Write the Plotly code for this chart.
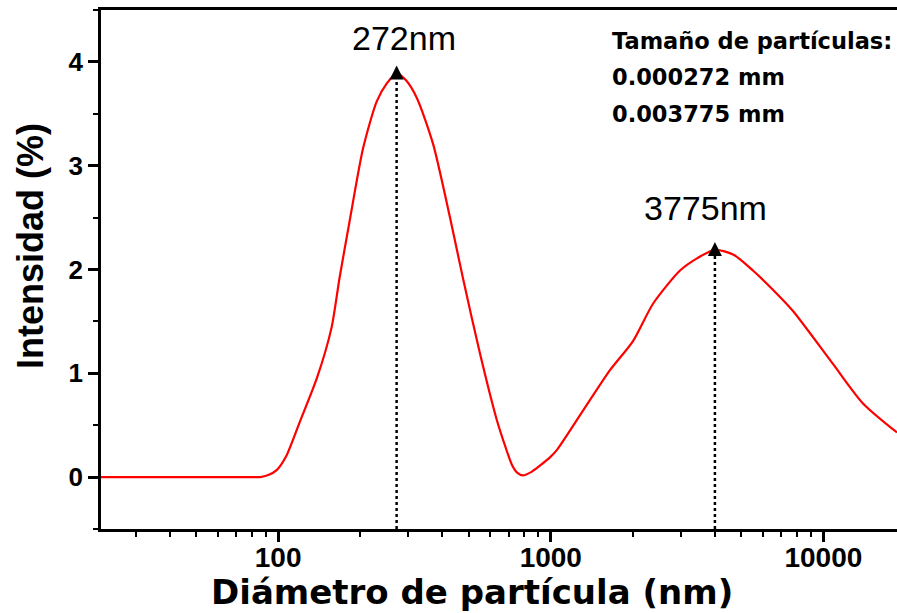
import math
import plotly.graph_objects as go

# ---- data ----
diameter_nm = [20, 80, 86, 92, 99, 107, 120, 139, 157, 168, 183, 205, 230, 250, 272, 295,
               323, 370, 427, 476, 550, 634, 680, 720, 755, 790, 850, 912, 993, 1052,
               1313, 1649, 2003, 2372, 2979, 3450, 4000, 4700, 5515, 6500, 7734, 10840,
               13970, 18620]
intensity_pct = [0, 0, 0, 0.02, 0.07, 0.2, 0.53, 0.96, 1.44, 1.92, 2.47, 3.17, 3.62, 3.79,
                 3.89, 3.82, 3.65, 3.21, 2.50, 1.92, 1.19, 0.55, 0.30, 0.12, 0.04, 0.016,
                 0.05, 0.11, 0.19, 0.26, 0.64, 1.03, 1.31, 1.67, 1.99, 2.11, 2.19, 2.14,
                 1.99, 1.81, 1.60, 1.09, 0.71, 0.43]

peak_x = [272, 4000]
peak_y = [3.89, 2.19]
peak_labels = ["272nm", "3775nm"]
info_lines = ["Tamaño de partículas:", "0.000272 mm", "0.003775 mm"]
x_ticks = [100, 1000, 10000]
x_range = [22.4, 18620]
y_range = [-0.5, 4.5]

fig = go.Figure()

fig.add_trace(go.Scatter(
    x=diameter_nm, y=intensity_pct, mode="lines",
    line=dict(color="#ff0000", width=2.2, shape="spline", smoothing=0.7),
    showlegend=False, hoverinfo="skip"))

for px_, py_ in zip(peak_x, peak_y):
    fig.add_trace(go.Scatter(
        x=[px_, px_], y=[y_range[0], py_], mode="lines",
        line=dict(color="black", width=2.5, dash="dot"),
        showlegend=False, hoverinfo="skip"))
    fig.add_trace(go.Scatter(
        x=[px_], y=[py_ + 0.075], mode="markers",
        marker=dict(symbol="arrow-up", size=14, color="black", line=dict(width=0)),
        showlegend=False, hoverinfo="skip"))

label_xshift = [7, -9]
label_yshift = [14, 21]
for px_, py_, txt, xs, ys in zip(peak_x, peak_y, peak_labels, label_xshift, label_yshift):
    fig.add_annotation(x=math.log10(px_), y=py_, text=txt, showarrow=False,
                       xanchor="center", yanchor="bottom", xshift=xs, yshift=ys,
                       font=dict(family="Liberation Sans", size=34, color="black"))

for i, line in enumerate(info_lines):
    fig.add_annotation(xref="paper", yref="paper", x=(610 - 101) / 796,
                       y=(529 - (41 + i * 36.5)) / 519, text=line, showarrow=False,
                       xanchor="left", yanchor="middle",
                       font=dict(family="DejaVu Sans", size=22.5, color="black", weight="bold"))

# axis titles
fig.add_annotation(xref="paper", yref="paper", x=(472 - 101) / 796, y=0,
                   yshift=-85, text="Diámetro de partícula (nm)", showarrow=False,
                   xanchor="center", yanchor="bottom",
                   font=dict(family="DejaVu Sans", size=34, color="black", weight="bold"))
fig.add_annotation(xref="paper", yref="paper", x=0, xshift=-71,
                   y=(529 - 246) / 519, text="Intensidad (%)", showarrow=False,
                   textangle=-90, xanchor="center", yanchor="middle",
                   font=dict(family="Liberation Sans", size=36, color="black", weight="bold"))

fig.update_xaxes(
    type="log", range=[math.log10(x_range[0]), math.log10(x_range[1])],
    tickmode="array", tickvals=x_ticks, ticktext=[str(v) for v in x_ticks],
    ticks="outside", ticklen=10, tickwidth=2.5, tickcolor="black",
    ticklabelstandoff=-8,
    showline=True, linewidth=2.5, linecolor="black", mirror=True,
    showgrid=False, zeroline=False,
    minor=dict(ticks="outside", ticklen=5, tickwidth=2, tickcolor="black",
               dtick="D1", showgrid=False),
    tickfont=dict(family="Liberation Sans", size=28, color="black", weight="bold"))

fig.update_yaxes(
    range=y_range, tickmode="linear", tick0=0, dtick=1,
    ticks="outside", ticklen=10, tickwidth=2.5, tickcolor="black",
    showline=True, linewidth=2.5, linecolor="black", mirror=False,
    showgrid=False, zeroline=False,
    minor=dict(ticks="outside", ticklen=5, tickwidth=2, tickcolor="black",
               dtick=0.5, showgrid=False),
    tickfont=dict(family="Liberation Sans", size=26, color="black", weight="bold"))

fig.update_layout(
    width=897, height=613,
    margin=dict(l=101, r=0, t=10, b=84),
    paper_bgcolor="white", plot_bgcolor="white",
    showlegend=False)

fig.write_html("out.html", config={"displayModeBar": False},
               post_script="document.body.style.margin='0px';"
                           "document.body.style.overflow='hidden';")
